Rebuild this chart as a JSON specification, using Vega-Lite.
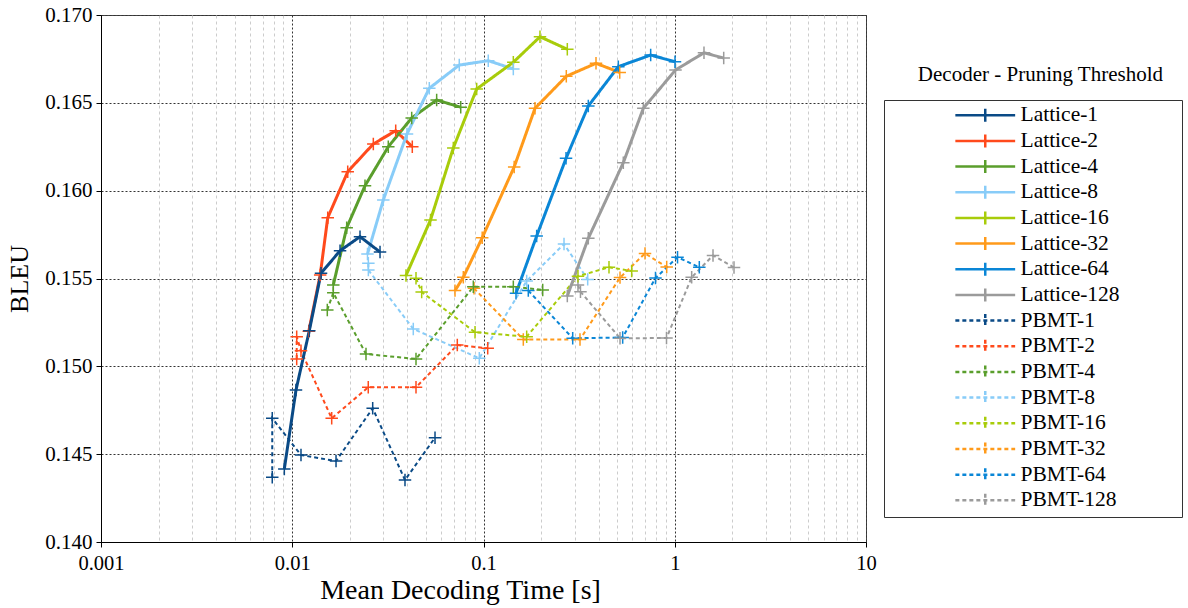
{
  "$schema": "https://vega.github.io/schema/vega-lite/v6.json",
  "width": 765,
  "height": 527,
  "autosize": {"type": "none"},
  "padding": {"left": 101, "top": 15, "right": 322, "bottom": 66},
  "background": "white",
  "title": {"text": "Decoder - Pruning Threshold", "anchor": "end", "frame": "group", "orient": "top", "dx": 297, "offset": -97.7, "baseline": "alphabetic", "font": "Liberation Serif", "fontSize": 21, "fontWeight": "normal", "color": "black"},
  "config": {"view": {"stroke": "#444", "strokeWidth": 1}, "font": "Liberation Serif"},
  "data": {"values": [
    {"s": "Lattice-1", "i": 0, "t": 0.00909, "b": 0.14416},
    {"s": "Lattice-1", "i": 1, "t": 0.01046, "b": 0.14865},
    {"s": "Lattice-1", "i": 2, "t": 0.01228, "b": 0.15203},
    {"s": "Lattice-1", "i": 3, "t": 0.01414, "b": 0.15530},
    {"s": "Lattice-1", "i": 4, "t": 0.01778, "b": 0.15658},
    {"s": "Lattice-1", "i": 5, "t": 0.02261, "b": 0.15738},
    {"s": "Lattice-1", "i": 6, "t": 0.02877, "b": 0.15651},
    {"s": "Lattice-2", "i": 0, "t": 0.0122, "b": 0.1520},
    {"s": "Lattice-2", "i": 1, "t": 0.0140, "b": 0.1552},
    {"s": "Lattice-2", "i": 2, "t": 0.01533, "b": 0.15846},
    {"s": "Lattice-2", "i": 3, "t": 0.01950, "b": 0.16108},
    {"s": "Lattice-2", "i": 4, "t": 0.02654, "b": 0.16266},
    {"s": "Lattice-2", "i": 5, "t": 0.03475, "b": 0.16341},
    {"s": "Lattice-2", "i": 6, "t": 0.04243, "b": 0.16250},
    {"s": "Lattice-4", "i": 0, "t": 0.01639, "b": 0.15463},
    {"s": "Lattice-4", "i": 1, "t": 0.01926, "b": 0.15789},
    {"s": "Lattice-4", "i": 2, "t": 0.02401, "b": 0.16028},
    {"s": "Lattice-4", "i": 3, "t": 0.03178, "b": 0.16250},
    {"s": "Lattice-4", "i": 4, "t": 0.04213, "b": 0.16414},
    {"s": "Lattice-4", "i": 5, "t": 0.05690, "b": 0.16516},
    {"s": "Lattice-4", "i": 6, "t": 0.07602, "b": 0.16475},
    {"s": "Lattice-8", "i": 0, "t": 0.02474, "b": 0.15639},
    {"s": "Lattice-8", "i": 1, "t": 0.02993, "b": 0.15947},
    {"s": "Lattice-8", "i": 2, "t": 0.03981, "b": 0.16323},
    {"s": "Lattice-8", "i": 3, "t": 0.05207, "b": 0.16583},
    {"s": "Lattice-8", "i": 4, "t": 0.07470, "b": 0.16715},
    {"s": "Lattice-8", "i": 5, "t": 0.1059, "b": 0.16740},
    {"s": "Lattice-8", "i": 6, "t": 0.1432, "b": 0.16693},
    {"s": "Lattice-16", "i": 0, "t": 0.03934, "b": 0.15517},
    {"s": "Lattice-16", "i": 1, "t": 0.05283, "b": 0.15833},
    {"s": "Lattice-16", "i": 2, "t": 0.06952, "b": 0.16243},
    {"s": "Lattice-16", "i": 3, "t": 0.09213, "b": 0.16579},
    {"s": "Lattice-16", "i": 4, "t": 0.1432, "b": 0.16731},
    {"s": "Lattice-16", "i": 5, "t": 0.1974, "b": 0.16876},
    {"s": "Lattice-16", "i": 6, "t": 0.2743, "b": 0.16805},
    {"s": "Lattice-32", "i": 0, "t": 0.07096, "b": 0.15431},
    {"s": "Lattice-32", "i": 1, "t": 0.07842, "b": 0.15507},
    {"s": "Lattice-32", "i": 2, "t": 0.09845, "b": 0.15732},
    {"s": "Lattice-32", "i": 3, "t": 0.1447, "b": 0.16135},
    {"s": "Lattice-32", "i": 4, "t": 0.1859, "b": 0.16469},
    {"s": "Lattice-32", "i": 5, "t": 0.2710, "b": 0.16651},
    {"s": "Lattice-32", "i": 6, "t": 0.3875, "b": 0.16725},
    {"s": "Lattice-32", "i": 7, "t": 0.5155, "b": 0.16673},
    {"s": "Lattice-64", "i": 0, "t": 0.1479, "b": 0.15416},
    {"s": "Lattice-64", "i": 1, "t": 0.1897, "b": 0.15742},
    {"s": "Lattice-64", "i": 2, "t": 0.2701, "b": 0.16184},
    {"s": "Lattice-64", "i": 3, "t": 0.3532, "b": 0.16482},
    {"s": "Lattice-64", "i": 4, "t": 0.5069, "b": 0.16706},
    {"s": "Lattice-64", "i": 5, "t": 0.7484, "b": 0.16772},
    {"s": "Lattice-64", "i": 6, "t": 1.003, "b": 0.16734},
    {"s": "Lattice-128", "i": 0, "t": 0.2743, "b": 0.15400},
    {"s": "Lattice-128", "i": 1, "t": 0.3532, "b": 0.15729},
    {"s": "Lattice-128", "i": 2, "t": 0.5383, "b": 0.16159},
    {"s": "Lattice-128", "i": 3, "t": 0.6850, "b": 0.16469},
    {"s": "Lattice-128", "i": 4, "t": 1.009, "b": 0.16687},
    {"s": "Lattice-128", "i": 5, "t": 1.422, "b": 0.16785},
    {"s": "Lattice-128", "i": 6, "t": 1.803, "b": 0.16755},
    {"s": "PBMT-1", "i": 0, "t": 0.00786, "b": 0.14368},
    {"s": "PBMT-1", "i": 1, "t": 0.00786, "b": 0.14704},
    {"s": "PBMT-1", "i": 2, "t": 0.01111, "b": 0.14495},
    {"s": "PBMT-1", "i": 3, "t": 0.01694, "b": 0.14461},
    {"s": "PBMT-1", "i": 4, "t": 0.02634, "b": 0.14761},
    {"s": "PBMT-1", "i": 5, "t": 0.03886, "b": 0.14353},
    {"s": "PBMT-1", "i": 6, "t": 0.05578, "b": 0.14594},
    {"s": "PBMT-2", "i": 0, "t": 0.01055, "b": 0.15042},
    {"s": "PBMT-2", "i": 1, "t": 0.01055, "b": 0.15169},
    {"s": "PBMT-2", "i": 2, "t": 0.01111, "b": 0.15089},
    {"s": "PBMT-2", "i": 3, "t": 0.01608, "b": 0.14704},
    {"s": "PBMT-2", "i": 4, "t": 0.02497, "b": 0.14881},
    {"s": "PBMT-2", "i": 5, "t": 0.04437, "b": 0.14881},
    {"s": "PBMT-2", "i": 6, "t": 0.07295, "b": 0.15121},
    {"s": "PBMT-2", "i": 7, "t": 0.1052, "b": 0.15103},
    {"s": "PBMT-4", "i": 0, "t": 0.01525, "b": 0.15321},
    {"s": "PBMT-4", "i": 1, "t": 0.01639, "b": 0.15419},
    {"s": "PBMT-4", "i": 2, "t": 0.02430, "b": 0.15070},
    {"s": "PBMT-4", "i": 3, "t": 0.04437, "b": 0.15042},
    {"s": "PBMT-4", "i": 4, "t": 0.08846, "b": 0.15453},
    {"s": "PBMT-4", "i": 5, "t": 0.1432, "b": 0.15453},
    {"s": "PBMT-4", "i": 6, "t": 0.2040, "b": 0.15435},
    {"s": "PBMT-8", "i": 0, "t": 0.0250, "b": 0.15587},
    {"s": "PBMT-8", "i": 1, "t": 0.0250, "b": 0.15548},
    {"s": "PBMT-8", "i": 2, "t": 0.04294, "b": 0.15213},
    {"s": "PBMT-8", "i": 3, "t": 0.09506, "b": 0.15046},
    {"s": "PBMT-8", "i": 4, "t": 0.1682, "b": 0.15486},
    {"s": "PBMT-8", "i": 5, "t": 0.2636, "b": 0.15696},
    {"s": "PBMT-8", "i": 6, "t": 0.3506, "b": 0.15495},
    {"s": "PBMT-16", "i": 0, "t": 0.04437, "b": 0.15501},
    {"s": "PBMT-16", "i": 1, "t": 0.04751, "b": 0.15423},
    {"s": "PBMT-16", "i": 2, "t": 0.09029, "b": 0.15194},
    {"s": "PBMT-16", "i": 3, "t": 0.1682, "b": 0.15169},
    {"s": "PBMT-16", "i": 4, "t": 0.3119, "b": 0.15513},
    {"s": "PBMT-16", "i": 5, "t": 0.4531, "b": 0.15564},
    {"s": "PBMT-16", "i": 6, "t": 0.5955, "b": 0.15543},
    {"s": "PBMT-32", "i": 0, "t": 0.08920, "b": 0.15444},
    {"s": "PBMT-32", "i": 1, "t": 0.1615, "b": 0.15153},
    {"s": "PBMT-32", "i": 2, "t": 0.3196, "b": 0.15153},
    {"s": "PBMT-32", "i": 3, "t": 0.5174, "b": 0.15505},
    {"s": "PBMT-32", "i": 4, "t": 0.6990, "b": 0.15643},
    {"s": "PBMT-32", "i": 5, "t": 0.9077, "b": 0.15565},
    {"s": "PBMT-64", "i": 0, "t": 0.1715, "b": 0.15431},
    {"s": "PBMT-64", "i": 1, "t": 0.2927, "b": 0.15160},
    {"s": "PBMT-64", "i": 2, "t": 0.5343, "b": 0.15164},
    {"s": "PBMT-64", "i": 3, "t": 0.7931, "b": 0.15503},
    {"s": "PBMT-64", "i": 4, "t": 1.034, "b": 0.15621},
    {"s": "PBMT-64", "i": 5, "t": 1.344, "b": 0.15564},
    {"s": "PBMT-128", "i": 0, "t": 0.3119, "b": 0.15463},
    {"s": "PBMT-128", "i": 1, "t": 0.3214, "b": 0.15425},
    {"s": "PBMT-128", "i": 2, "t": 0.5174, "b": 0.15160},
    {"s": "PBMT-128", "i": 3, "t": 0.9055, "b": 0.15161},
    {"s": "PBMT-128", "i": 4, "t": 1.226, "b": 0.15507},
    {"s": "PBMT-128", "i": 5, "t": 1.585, "b": 0.15631},
    {"s": "PBMT-128", "i": 6, "t": 2.041, "b": 0.15563}
  ]},
  "encoding": {
    "x": {
      "field": "t", "type": "quantitative",
      "scale": {"type": "log", "domain": [0.001, 10], "nice": false},
      "axis": {
        "values": [0.001, 0.002, 0.003, 0.004, 0.005, 0.006, 0.007, 0.008, 0.009, 0.01, 0.02, 0.03, 0.04, 0.05, 0.06, 0.07, 0.08, 0.09, 0.1, 0.2, 0.3, 0.4, 0.5, 0.6, 0.7, 0.8, 0.9, 1, 2, 3, 4, 5, 6, 7, 8, 9, 10],
        "labelExpr": "indexof([0.001, 0.01, 0.1, 1, 10], datum.value) >= 0 ? format(datum.value, '~g') : ''",
        "grid": true,
        "gridColor": {"condition": {"test": "indexof([0.001, 0.01, 0.1, 1, 10], datum.value) >= 0", "value": "#333333"}, "value": "#cccccc"},
        "gridDash": {"condition": {"test": "indexof([0.001, 0.01, 0.1, 1, 10], datum.value) >= 0", "value": [2, 2]}, "value": [3, 3]},
        "tickColor": {"condition": {"test": "indexof([0.001, 0.01, 0.1, 1, 10], datum.value) >= 0", "value": "black"}, "value": "transparent"},
        "tickSize": 5,
        "domainColor": "black",
        "labelFont": "Liberation Serif", "labelFontSize": 20.5, "labelColor": "black", "labelPadding": 6,
        "labelFlush": false, "labelOverlap": false,
        "title": "Mean Decoding Time [s]", "titleFont": "Liberation Serif", "titleFontSize": 28, "titleFontWeight": "normal", "titleColor": "black", "titlePadding": 3, "titleX": 359
      }
    },
    "y": {
      "field": "b", "type": "quantitative",
      "scale": {"domain": [0.14, 0.17], "nice": false, "zero": false},
      "axis": {
        "values": [0.14, 0.145, 0.15, 0.155, 0.16, 0.165, 0.17],
        "format": ".3f",
        "grid": true, "gridColor": "#333333", "gridDash": [2, 2],
        "tickSize": 5, "tickColor": "black", "domainColor": "black",
        "labelFont": "Liberation Serif", "labelFontSize": 21, "labelColor": "black", "labelPadding": 4,
        "title": "BLEU", "titleFont": "Liberation Serif", "titleFontSize": 26, "titleFontWeight": "normal", "titleColor": "black", "titlePadding": 12
      }
    },
    "color": {
      "field": "s", "type": "nominal",
      "scale": {
        "domain": ["Lattice-1", "Lattice-2", "Lattice-4", "Lattice-8", "Lattice-16", "Lattice-32", "Lattice-64", "Lattice-128", "PBMT-1", "PBMT-2", "PBMT-4", "PBMT-8", "PBMT-16", "PBMT-32", "PBMT-64", "PBMT-128"],
        "range": ["#0a4a86", "#ff4a1c", "#5a9e2c", "#88ccf8", "#a8cc0a", "#ff9a1a", "#0a86d6", "#9b9b9b", "#0a4a86", "#ff4a1c", "#5a9e2c", "#88ccf8", "#a8cc0a", "#ff9a1a", "#0a86d6", "#9b9b9b"]
      },
      "legend": {
        "orient": "none", "legendX": 783, "legendY": 85,
        "title": null,
        "strokeColor": "#333333", "fillColor": "white", "padding": 4.5,
        "symbolType": "M-4.6,0L4.6,0M0,-1L0,1M28.7,0",
        "symbolSize": 169, "symbolStrokeWidth": 2.5, "symbolOffset": 86, "symbolFillColor": "transparent",
        "labelOffset": 24.5, "labelFont": "Liberation Serif", "labelFontSize": 21.5, "labelColor": "black",
        "rowPadding": 1.67
      }
    },
    "order": {"field": "i", "type": "quantitative"}
  },
  "layer": [
    {
      "transform": [{"filter": "indexof(datum.s, 'PBMT') == 0"}],
      "mark": {"type": "line", "strokeWidth": 2},
      "encoding": {
        "strokeDash": {
          "field": "s", "type": "nominal",
          "scale": {
            "domain": ["Lattice-1", "Lattice-2", "Lattice-4", "Lattice-8", "Lattice-16", "Lattice-32", "Lattice-64", "Lattice-128", "PBMT-1", "PBMT-2", "PBMT-4", "PBMT-8", "PBMT-16", "PBMT-32", "PBMT-64", "PBMT-128"],
            "range": [[1, 0], [1, 0], [1, 0], [1, 0], [1, 0], [1, 0], [1, 0], [1, 0], [4, 3], [4, 3], [4, 3], [4, 3], [4, 3], [4, 3], [4, 3], [4, 3]]
          }
        }
      }
    },
    {
      "transform": [{"filter": "indexof(datum.s, 'Lattice') == 0"}, {"filter": "datum.s != 'Lattice-1'"}],
      "mark": {"type": "line", "strokeWidth": 3},
      "encoding": {"strokeDash": {"field": "s", "type": "nominal"}}
    },
    {
      "transform": [{"filter": "datum.s == 'Lattice-1'"}],
      "mark": {"type": "line", "strokeWidth": 3},
      "encoding": {"strokeDash": {"field": "s", "type": "nominal"}}
    },
    {
      "mark": {"type": "point", "shape": "M-1,0L1,0M0,-1L0,1", "filled": false, "size": 156, "strokeWidth": 1.5, "opacity": 1}
    }
  ]
}
